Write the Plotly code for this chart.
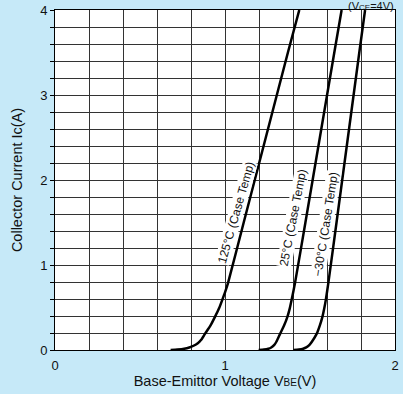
import plotly.graph_objects as go

# Collector current (A) and base-emitter voltage (V) for each case temperature
ic_125 = [0, 0.005, 0.015, 0.03, 0.05, 0.08, 0.12, 0.19, 0.29, 0.39, 0.49, 0.59, 0.69, 0.79, 1.5, 2.5, 3.5, 4.0]
vbe_125 = [0.68, 0.72, 0.76, 0.79, 0.815, 0.84, 0.86, 0.882, 0.915, 0.941, 0.965, 0.984, 1.002, 1.018, 1.11, 1.24, 1.37, 1.437]

ic_25 = [0, 0.005, 0.015, 0.03, 0.06, 0.10, 0.19, 0.29, 0.39, 0.49, 0.59, 0.79, 1.5, 2.5, 3.5, 4.0]
vbe_25 = [1.198, 1.23, 1.255, 1.272, 1.29, 1.303, 1.324, 1.348, 1.367, 1.381, 1.392, 1.412, 1.473, 1.558, 1.643, 1.686]

ic_m30 = [0, 0.005, 0.015, 0.03, 0.06, 0.10, 0.19, 0.29, 0.39, 0.49, 0.59, 0.79, 1.5, 2.5, 3.5, 4.0]
vbe_m30 = [1.402, 1.435, 1.46, 1.478, 1.497, 1.512, 1.539, 1.558, 1.573, 1.584, 1.593, 1.608, 1.656, 1.723, 1.790, 1.824]

labels = ["125°C (Case Temp)", "25°C (Case Temp)", "−30°C (Case Temp)"]
label_x = [1.065, 1.40, 1.594]
label_y = [1.61, 1.553, 1.48]
label_angle = [-74, -79, -81]

x_ticks = [0, 1, 2]
y_ticks = [0, 1, 2, 3, 4]

BG = "#C6E9F8"
GRID = "#333333"
FONT = "Liberation Sans, Arial, sans-serif"

fig = go.Figure()
for v, i in [(vbe_125, ic_125), (vbe_25, ic_25), (vbe_m30, ic_m30)]:
    fig.add_trace(go.Scatter(x=v, y=i, mode="lines",
                             line=dict(color="black", width=2.5, shape="spline", smoothing=0.5),
                             showlegend=False, hoverinfo="skip"))

for t, x, y, a in zip(labels, label_x, label_y, label_angle):
    fig.add_annotation(x=x, y=y, text=t, textangle=a, showarrow=False,
                       bgcolor="white", borderpad=0,
                       font=dict(size=12, color="#111", family=FONT))

fig.add_annotation(xref="paper", yref="paper", x=1.0, y=1.0, xanchor="right",
                   yanchor="top", yshift=11, xshift=0, borderpad=0,
                   text="(V<span style='font-size:8px'>CE</span>=4V)", showarrow=False,
                   font=dict(size=11, color="#111", family=FONT))

fig.update_layout(
    width=403, height=394,
    margin=dict(l=55, r=8, t=10, b=44),
    paper_bgcolor=BG, plot_bgcolor="white",
    font=dict(family=FONT, size=12, color="#111"),
    xaxis=dict(range=[0, 2], tickvals=x_ticks, ticktext=[str(t) for t in x_ticks],
               showgrid=True, gridcolor=GRID, gridwidth=1, ticks="", automargin=False,
               minor=dict(dtick=0.2, showgrid=True, gridcolor=GRID, gridwidth=1),
               showline=True, linecolor="black", linewidth=1, mirror=True,
               zeroline=False, tickfont=dict(size=13), ticklabelstandoff=3,
               title=dict(text="Base-Emittor Voltage V<span style='font-size:10px'>BE</span>(V)",
                          font=dict(size=14.5), standoff=4)),
    yaxis=dict(range=[0, 4], tickvals=y_ticks, ticktext=[str(t) for t in y_ticks],
               showgrid=True, gridcolor=GRID, gridwidth=1, ticks="outside", ticklen=4,
               tickcolor="black", automargin=False,
               minor=dict(dtick=0.2, showgrid=True, gridcolor=GRID, gridwidth=1,
                          ticks="outside", ticklen=4, tickcolor="black"),
               showline=True, linecolor="black", linewidth=1, mirror=True,
               zeroline=False, tickfont=dict(size=13),
               title=dict(text="Collector Current Ic(A)", font=dict(size=14.5), standoff=14)),
)

fig.write_html("out.html", config={"displayModeBar": False},
               post_script="document.body.style.margin='0';")
